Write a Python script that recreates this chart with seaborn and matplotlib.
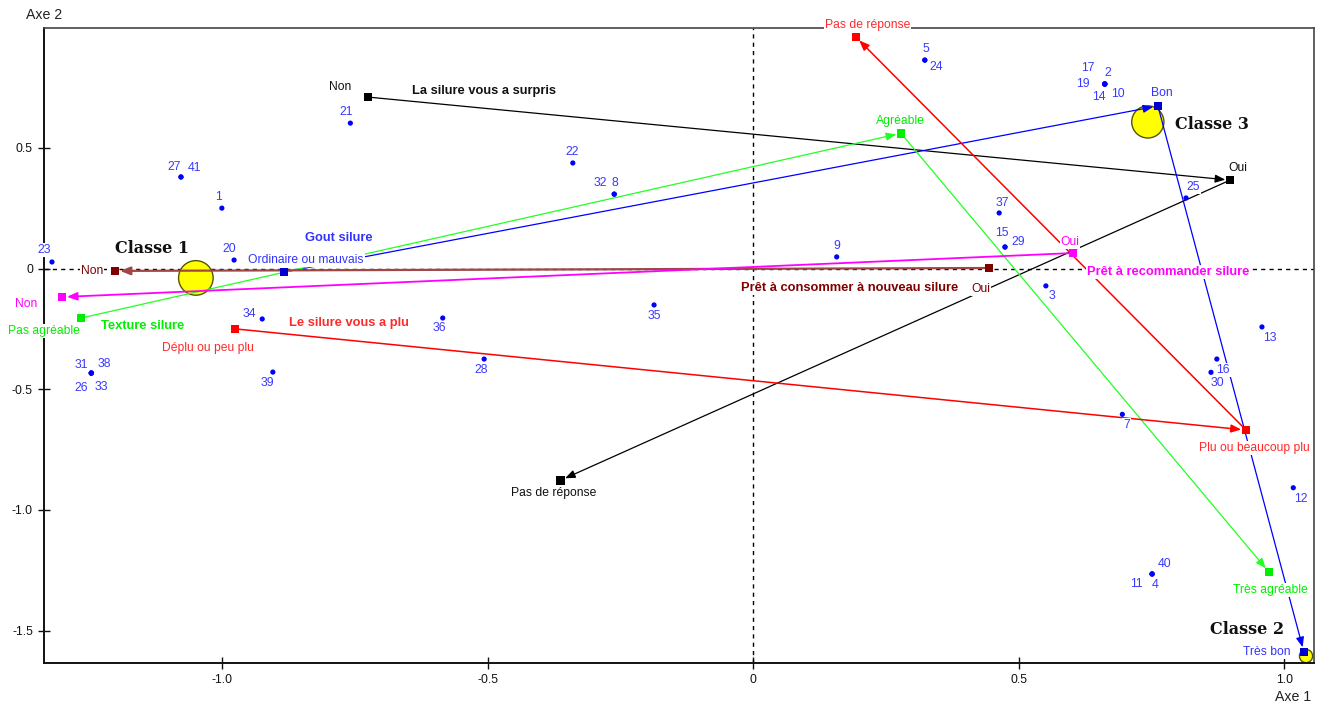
import numpy as np
import pandas as pd
import matplotlib
matplotlib.use("Agg")
import matplotlib.pyplot as plt
import seaborn as sns

# ---------------- data ----------------
# individuals (label, coordinates on axes 1 and 2)
ind_labels = ['23', '27', '41', '1', '20', '21', '22', '32', '8', '9', '35', '36', '28',
              '34', '39', '31', '38', '26', '33', '5', '24', '17', '2', '19', '14', '10',
              '37', '15', '29', '3', '25', '13', '16', '30', '7', '12', '40', '11', '4']
ind_x = [-1.321, -1.078, -1.078, -1.001, -0.978, -0.759, -0.340, -0.262, -0.262, 0.157,
         -0.187, -0.585, -0.507, -0.925, -0.905, -1.247, -1.247, -1.247, -1.247, 0.323,
         0.323, 0.662, 0.662, 0.662, 0.662, 0.662, 0.463, 0.474, 0.474, 0.551, 0.815,
         0.958, 0.873, 0.862, 0.695, 1.017, 0.751, 0.751, 0.751]
ind_y = [0.027, 0.379, 0.379, 0.250, 0.035, 0.602, 0.437, 0.308, 0.308, 0.048,
         -0.151, -0.205, -0.375, -0.209, -0.429, -0.433, -0.433, -0.433, -0.433, 0.863,
         0.863, 0.764, 0.764, 0.764, 0.764, 0.764, 0.230, 0.089, 0.089, -0.072, 0.292,
         -0.242, -0.375, -0.430, -0.604, -0.908, -1.265, -1.265, -1.265]

# classes
class_labels = ['Classe 1', 'Classe 3', 'Classe 2']
class_x = [-1.050, 0.743, 1.041]
class_y = [-0.039, 0.607, -1.605]
class_weight = [3.0, 2.6, 0.45]

# active variables: categories in trajectory order
surpris_name = 'La silure vous a surpris'
surpris_cats = ['Non', 'Oui', 'Pas de réponse']
surpris_x = [-0.726, 0.898, -0.363]
surpris_y = [0.710, 0.366, -0.877]

gout_name = 'Gout silure'
gout_cats = ['Ordinaire ou mauvais', 'Bon', 'Très bon']
gout_x = [-0.884, 0.762, 1.037]
gout_y = [-0.015, 0.673, -1.588]

texture_name = 'Texture silure'
texture_cats = ['Pas agréable', 'Agréable', 'Très agréable']
texture_x = [-1.266, 0.278, 0.971]
texture_y = [-0.205, 0.560, -1.257]

plu_name = 'Le silure vous a plu'
plu_cats = ['Déplu ou peu plu', 'Plu ou beaucoup plu', 'Pas de réponse']
plu_x = [-0.976, 0.928, 0.193]
plu_y = [-0.250, -0.669, 0.959]

conso_name = 'Prêt à consommer à nouveau silure'
conso_cats = ['Oui', 'Non']
conso_x = [0.444, -1.202]
conso_y = [0.002, -0.010]

recom_name = 'Prêt à recommander silure'
recom_cats = ['Oui', 'Non']
recom_x = [0.602, -1.302]
recom_y = [0.064, -0.118]

x_ticks = [-1.0, -0.5, 0.0, 0.5, 1.0]
x_ticklabels = ['-1.0', '-0.5', '0', '0.5', '1.0']
y_ticks = [0.5, 0.0, -0.5, -1.0, -1.5]
y_ticklabels = ['0.5', '0', '-0.5', '-1.0', '-1.5']

# ---------------- layout / style ----------------
sns.set_style('white')
plt.rcParams['font.family'] = ['Liberation Sans', 'DejaVu Sans']

PX = 0.72  # pixels -> points at 100 dpi
ind_offsets = {'23': (-8, -12), '27': (-7, -10), '41': (14, -9), '1': (-3, -11), '20': (-5, -11),
               '21': (-4, -11), '22': (-1, -11), '32': (-14, -11), '8': (1, -11), '9': (0, -11),
               '35': (0, 11), '36': (-3, 10), '28': (-3, 11), '34': (-13, -5), '39': (-5, 11),
               '31': (-10, -8), '38': (13, -9), '26': (-10, 15), '33': (10, 14), '5': (1, -11),
               '24': (11, 7), '17': (-17, -16), '2': (3, -11), '19': (-22, 0), '14': (-6, 13),
               '10': (13, 10), '37': (3, -10), '15': (-3, -14), '29': (13, -5), '3': (6, 10),
               '25': (7, -11), '13': (8, 11), '16': (6, 11), '30': (6, 11), '7': (4, 11),
               '12': (8, 11), '40': (12, -10), '11': (-16, 10), '4': (3, 11)}

variables = [
    dict(name=surpris_name, cats=surpris_cats, x=surpris_x, y=surpris_y,
         line='#000000', mark='#000000', text='#111111', lw=0.9,
         offs=[(-28, -10), (8, -12), (-7, 13)], title_at=(-0.507, 0.735)),
    dict(name=gout_name, cats=gout_cats, x=gout_x, y=gout_y,
         line='#0000ff', mark='#0000cc', text='#3333ff', lw=0.9,
         offs=[(22, -12), (4, -13), (-37, 0)], title_at=(-0.780, 0.126)),
    dict(name=texture_name, cats=texture_cats, x=texture_x, y=texture_y,
         line='#22ff22', mark='#00ee00', text='#00ee00', lw=0.9,
         offs=[(-37, 13), (-1, -12), (2, 18)], title_at=(-1.151, -0.238)),
    dict(name=plu_name, cats=plu_cats, x=plu_x, y=plu_y,
         line='#ff0000', mark='#ff0000', text='#ff2a2a', lw=1.1,
         offs=[(-27, 19), (8, 18), (12, -12)], title_at=(-0.762, -0.226)),
    dict(name=conso_name, cats=conso_cats, x=conso_x, y=conso_y,
         line='#a04646', mark='#800000', text='#800000', lw=1.6,
         offs=[(-8, 21), (-23, 0)], title_at=(0.182, -0.081)),
    dict(name=recom_name, cats=recom_cats, x=recom_x, y=recom_y,
         line='#ff00ff', mark='#ff00ff', text='#ff00ff', lw=1.3,
         offs=[(-3, -11), (-36, 7)], title_at=(0.781, -0.014)),
]
class_text_at = [(-1.132, 0.081), (0.864, 0.598), (0.930, -1.497)]

WHITE = dict(boxstyle='square,pad=0.08', fc='white', ec='none')

fig = plt.figure(figsize=(13.25, 7.06), dpi=100)
ax = fig.add_axes([44 / 1325, (706 - 663.3) / 706, 1270 / 1325, 635.3 / 706])

ax.set_xlim(-1.336, 1.056)
ax.set_ylim(-1.635, 0.996)

# zero lines
ax.axhline(0, color='black', lw=1.0, ls=(0, (3, 3)), zorder=1)
ax.axvline(0, color='black', lw=1.0, ls=(0, (3, 3)), zorder=1)

# class circles
cls_df = pd.DataFrame({'x': class_x, 'y': class_y, 'w': class_weight, 'lab': class_labels})
sns.scatterplot(data=cls_df, x='x', y='y', size='w', sizes=(90, 620), size_norm=(0.45, 3.0),
                color='#ffff00', edgecolor='#555500', linewidth=1.0, legend=False, ax=ax, zorder=2)
for lab, (tx, ty) in zip(class_labels, class_text_at):
    ax.text(tx, ty, lab, ha='center', va='center', fontsize=11.5, fontweight='bold',
            family='DejaVu Serif', color='#111111', zorder=6)

# trajectories
for v in variables:
    xs, ys = v['x'], v['y']
    for i in range(len(xs) - 1):
        ax.annotate('', xy=(xs[i + 1], ys[i + 1]), xytext=(xs[i], ys[i]),
                    arrowprops=dict(arrowstyle='-|>,head_length=0.5,head_width=0.2',
                                    color=v['line'], lw=v['lw'], shrinkA=0, shrinkB=3.5,
                                    mutation_scale=12),
                    zorder=3)
    vdf = pd.DataFrame({'x': xs, 'y': ys})
    sns.scatterplot(data=vdf, x='x', y='y', marker='s', s=38, color=v['mark'],
                    edgecolor='none', legend=False, ax=ax, zorder=4)
    for c, cx, cy, (dx, dy) in zip(v['cats'], xs, ys, v['offs']):
        ax.annotate(c, xy=(cx, cy), xytext=(dx * PX, -dy * PX), textcoords='offset points',
                    ha='center', va='center', fontsize=8.7, color=v['text'],
                    bbox=WHITE, zorder=5, annotation_clip=False)
    tx, ty = v['title_at']
    ax.text(tx, ty, v['name'], ha='center', va='center', fontsize=9.3, fontweight='bold',
            color=v['text'], bbox=WHITE, zorder=5)

# individuals
ind_df = pd.DataFrame({'x': ind_x, 'y': ind_y, 'lab': ind_labels})
sns.scatterplot(data=ind_df, x='x', y='y', color='#0000ff', s=14, edgecolor='none',
                legend=False, ax=ax, zorder=4)
for lab, x, y in zip(ind_labels, ind_x, ind_y):
    dx, dy = ind_offsets[lab]
    ax.annotate(lab, xy=(x, y), xytext=(dx * PX, -dy * PX), textcoords='offset points',
                ha='center', va='center', fontsize=8.8, color='#3a3aff',
                bbox=WHITE, zorder=5)

# axes styling
ax.set_xlabel('')
ax.set_ylabel('')
ax.set_xticks(x_ticks)
ax.set_xticklabels(x_ticklabels)
ax.set_yticks(y_ticks)
ax.set_yticklabels(y_ticklabels)
ax.tick_params(bottom=True, left=True, top=False, right=False,
               direction='inout', length=8, width=1.0, labelsize=8.7, colors='#111111', pad=4)
for side in ['left', 'bottom']:
    ax.spines[side].set_color('#111111')
    ax.spines[side].set_linewidth(1.4)
for side in ['top', 'right']:
    ax.spines[side].set_color('#444444')
    ax.spines[side].set_linewidth(1.2)
    ax.spines[side].set_visible(True)
ax.grid(False)

fig.text(44 / 1325, 1 - 15 / 706, 'Axe 2', ha='center', va='center', fontsize=10.2, color='#222222')
fig.text(1293 / 1325, 1 - 697 / 706, 'Axe 1', ha='center', va='center', fontsize=10.2, color='#222222')

fig.savefig('out.png', dpi=100, facecolor='white')
